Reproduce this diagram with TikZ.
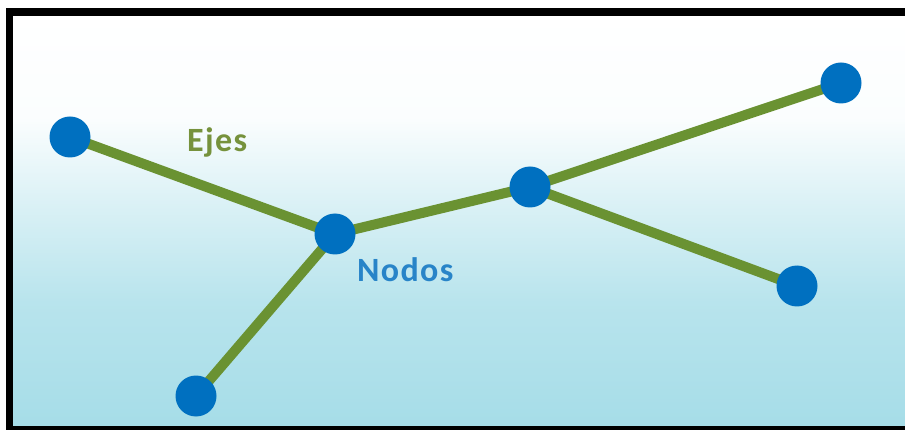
\documentclass[tikz,border=0pt]{standalone}
\usepackage{fontspec}
\setmainfont{Carlito}
\definecolor{edgegreen}{RGB}{106,146,50}
\definecolor{nodeblue}{RGB}{0,112,192}
\definecolor{txtblue}{RGB}{40,132,200}
\definecolor{txtgreen}{RGB}{118,146,60}
\definecolor{bgtop}{RGB}{255,255,255}
\definecolor{bgbot}{RGB}{166,221,232}
\pgfdeclareverticalshading{bgshade}{100bp}{
  color(0bp)=(bgbot); color(25bp)=(bgbot); color(40bp)=(bgbot!80!white); color(52.5bp)=(bgbot!40!white); color(62.5bp)=(bgbot!5!white); color(75bp)=(bgtop); color(100bp)=(bgtop)}
\tikzset{
  vert/.style={circle,fill=nodeblue,inner sep=0pt,minimum size=41pt},
  edge/.style={draw=edgegreen,line width=10pt},
  lbl/.style={inner sep=0pt,anchor=base west,font=\bfseries\fontsize{34}{36}\selectfont\addfontfeature{LetterSpace=4}}
}
\begin{document}
\begin{tikzpicture}[x=1pt,y=-1pt]
\useasboundingbox (0,0) rectangle (905,430);
\fill[white] (0,0) rectangle (905,430);
\shade[shading=bgshade] (13,16) rectangle (905,426);
\fill[black] (6,8) rectangle (905,16);
\fill[black] (6,8) rectangle (13,430);
\fill[black] (6,426) rectangle (905,430);
\path (70,137) coordinate (a) (335,234) coordinate (b) (530,187) coordinate (c)
      (841,83) coordinate (d) (797,286) coordinate (e) (196,396) coordinate (f);
\path[edge] (a) -- (b);
\path[edge] (b) -- (c);
\path[edge] (c) -- (d);
\path[edge] (c) -- (e);
\path[edge] (b) -- (f);
\foreach \n in {a,b,c,d,e,f}
  \node[vert] (n\n) at (\n) {};
\node[lbl,text=txtgreen] (ejes) at (187,152) {Ejes};
\node[lbl,text=txtblue] (nodos) at (357,282) {Nodos};
\end{tikzpicture}
\end{document}
